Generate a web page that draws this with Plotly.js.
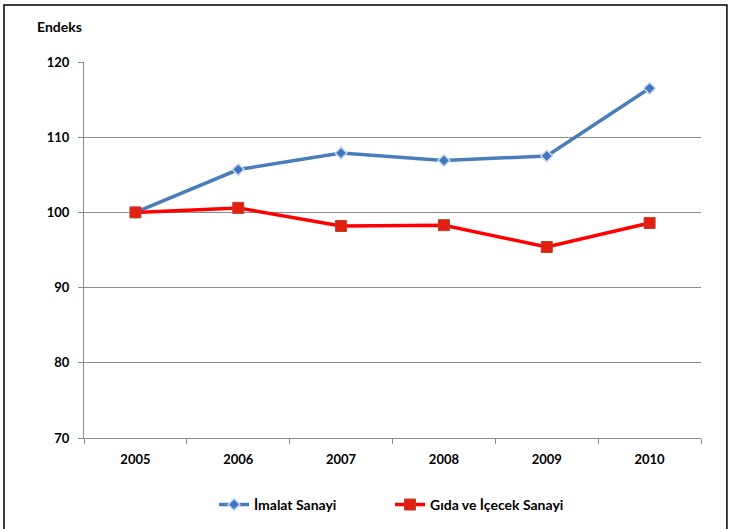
<!DOCTYPE html>
<html>
<head>
<meta charset="utf-8">
<script src="https://cdn.plot.ly/plotly-3.0.1.min.js"></script>
<style>html,body{margin:0;padding:0;background:#fff;}#chart{width:729px;height:529px;}</style>
</head>
<body>
<div id="chart"></div>
<script>
const years = ["2005", "2006", "2007", "2008", "2009", "2010"];
const imalat = [100, 105.7, 107.9, 106.9, 107.5, 116.5];
const gida = [100, 100.6, 98.2, 98.3, 95.4, 98.6];
const seriesNames = ["İmalat Sanayi", "Gıda ve İçecek Sanayi"];
const yTicks = [70, 80, 90, 100, 110, 120];

const fam = "Lato, 'Open Sans', sans-serif";

const traces = [
  {
    x: years, y: imalat, name: seriesNames[0], type: "scatter", mode: "lines+markers",
    line: {color: "#4a7ebb", width: 3.5},
    marker: {symbol: "diamond", size: 9, color: "#3f76c4", line: {color: "#c9d6ea", width: 1.5}}
  },
  {
    x: years, y: gida, name: seriesNames[1], type: "scatter", mode: "lines+markers",
    line: {color: "#ff0000", width: 3.5},
    marker: {symbol: "square", size: 11, color: "#e3200f", line: {color: "#b8402e", width: 1}}
  }
];

const layout = {
  width: 729, height: 529,
  margin: {l: 84, r: 28, t: 62, b: 91, autoexpand: false},
  paper_bgcolor: "#fff", plot_bgcolor: "#fff",
  font: {family: fam, size: 13, color: "#000"},
  showlegend: true,
  legend: {orientation: "h", x: 0.2107, xanchor: "left", y: -0.178, yanchor: "middle",
           font: {family: fam, size: 14, color: "#000", weight: "bold"},
           entrywidth: 131, itemwidth: 30, tracegroupgap: 0},
  xaxis: {
    type: "category", range: [-0.5, 5.5], tickson: "boundaries",
    showline: true, linecolor: "#8c8c8c", linewidth: 1,
    ticks: "outside", ticklen: 5, tickcolor: "#8c8c8c",
    showgrid: false, zeroline: false,
    tickfont: {family: fam, size: 13, color: "#000", weight: "bold"},
    ticklabelstandoff: 9,
    fixedrange: true
  },
  yaxis: {
    range: [70, 120], tickvals: yTicks, ticktext: yTicks.map(String),
    showline: true, linecolor: "#8c8c8c", linewidth: 1,
    ticks: "outside", ticklen: 5, tickcolor: "#8c8c8c",
    showgrid: true, gridcolor: "#8c8c8c", gridwidth: 1, zeroline: false,
    tickfont: {family: fam, size: 13, color: "#000", weight: "bold"},
    ticklabelstandoff: 6,
    fixedrange: true
  },
  annotations: [
    {text: "<b>Endeks</b>", xref: "paper", yref: "paper", x: -0.080, y: 1.0944,
     xanchor: "left", yanchor: "middle", showarrow: false,
     font: {family: fam, size: 14, color: "#000"}}
  ],
  shapes: [
    {type: "rect", xref: "paper", yref: "paper", x0: -0.1297, x1: 1.042, y0: -0.3, y1: 1.1516,
     line: {color: "#000", width: 1.5}, fillcolor: "rgba(0,0,0,0)", layer: "below"}
  ]
};

Plotly.newPlot("chart", traces, layout, {displayModeBar: false, staticPlot: true});
</script>
</body>
</html>
